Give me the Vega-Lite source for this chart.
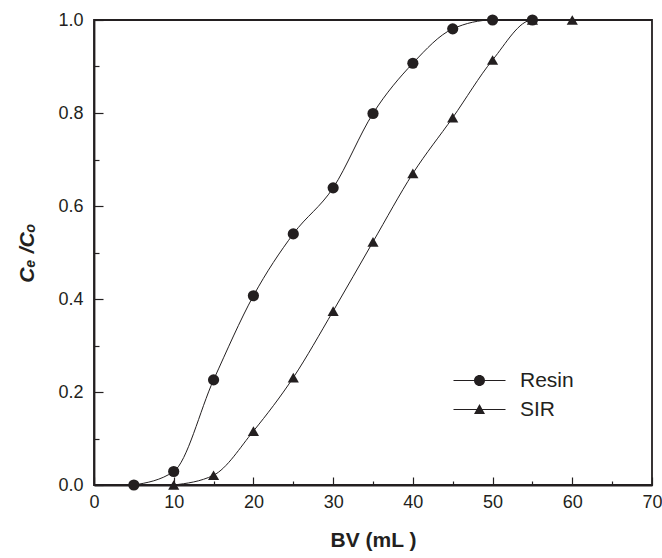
{
  "$schema": "https://vega.github.io/schema/vega-lite/v6.json",
  "autosize": "none",
  "width": 558,
  "height": 465,
  "padding": {"left": 94, "top": 20, "right": 10, "bottom": 73},
  "background": "white",
  "config": {
    "view": {"stroke": "#231f20", "strokeWidth": 1.8},
    "font": "Liberation Sans",
    "axis": {
      "grid": false,
      "domainColor": "#231f20",
      "domainWidth": 1.8,
      "tickColor": "#231f20",
      "tickWidth": 1.2,
      "labelColor": "#231f20",
      "labelFont": "Liberation Sans",
      "labelFontSize": 18,
      "titleColor": "#231f20",
      "titleFont": "Liberation Sans",
      "titleFontSize": 21,
      "titleFontWeight": "bold"
    }
  },
  "data": {
    "values": [
      {"series": "Resin", "bv": 5, "c": 0.0},
      {"series": "Resin", "bv": 10, "c": 0.029},
      {"series": "Resin", "bv": 15, "c": 0.226},
      {"series": "Resin", "bv": 20, "c": 0.407},
      {"series": "Resin", "bv": 25, "c": 0.54},
      {"series": "Resin", "bv": 30, "c": 0.639},
      {"series": "Resin", "bv": 35, "c": 0.799},
      {"series": "Resin", "bv": 40, "c": 0.907},
      {"series": "Resin", "bv": 45, "c": 0.981},
      {"series": "Resin", "bv": 50, "c": 1.0},
      {"series": "Resin", "bv": 55, "c": 1.0},
      {"series": "SIR", "bv": 10, "c": 0.0},
      {"series": "SIR", "bv": 15, "c": 0.021},
      {"series": "SIR", "bv": 20, "c": 0.116},
      {"series": "SIR", "bv": 25, "c": 0.231},
      {"series": "SIR", "bv": 30, "c": 0.374},
      {"series": "SIR", "bv": 35, "c": 0.523},
      {"series": "SIR", "bv": 40, "c": 0.67},
      {"series": "SIR", "bv": 45, "c": 0.79},
      {"series": "SIR", "bv": 50, "c": 0.914},
      {"series": "SIR", "bv": 55, "c": 1.0},
      {"series": "SIR", "bv": 60, "c": 1.0}
    ]
  },
  "encoding": {
    "x": {
      "field": "bv",
      "type": "quantitative",
      "scale": {"domain": [0, 70], "nice": false},
      "axis": {
        "title": "BV (mL )",
        "values": [0, 5, 10, 15, 20, 25, 30, 35, 40, 45, 50, 55, 60, 65, 70],
        "tickSize": {"condition": {"test": "datum.value % 10 === 0", "value": -8}, "value": -4},
        "labelExpr": "datum.value % 10 === 0 ? datum.label : ''",
        "labelPadding": 16,
        "labelFlush": false,
        "labelOverlap": false,
        "titlePadding": 14
      }
    },
    "y": {
      "field": "c",
      "type": "quantitative",
      "scale": {"domain": [0, 1], "nice": false},
      "axis": {
        "title": "Cₑ /Cₒ",
        "titleFontStyle": "italic",
        "values": [0, 0.1, 0.2, 0.3, 0.4, 0.5, 0.6, 0.7, 0.8, 0.9, 1.0],
        "format": ".1f",
        "tickSize": {"condition": {"test": "round(datum.value * 10) % 2 === 0", "value": -9}, "value": -5},
        "labelExpr": "round(datum.value * 10) % 2 === 0 ? datum.label : ''",
        "labelPadding": 20,
        "labelFlush": false,
        "labelOverlap": false,
        "titlePadding": 20
      }
    }
  },
  "layer": [
    {
      "mark": {"type": "line", "interpolate": "monotone", "color": "#231f20", "strokeWidth": 1},
      "encoding": {"detail": {"field": "series"}}
    },
    {
      "mark": {"type": "point", "filled": true, "opacity": 0, "color": "#231f20", "size": 100},
      "encoding": {
        "shape": {
          "field": "series",
          "type": "nominal",
          "scale": {
            "domain": ["Resin", "SIR"],
            "range": [
              "M-5.2,-0.1L5.2,-0.1L5.2,0.1L-5.2,0.1ZM1.1,0A1.1,1.1,0,1,1,-1.1,0A1.1,1.1,0,1,1,1.1,0Z",
              "M-5.2,-0.1L5.2,-0.1L5.2,0.1L-5.2,0.1ZM0,-1.1L1.1,0.9L-1.1,0.9Z"
            ]
          },
          "legend": {
            "title": null,
            "orient": "none",
            "legendX": 375,
            "legendY": 350,
            "padding": 0,
            "symbolSize": 100,
            "symbolOpacity": 1,
            "symbolFillColor": "#231f20",
            "symbolStrokeColor": "#231f20",
            "symbolStrokeWidth": 0,
            "labelFontSize": 21,
            "labelFont": "Liberation Sans",
            "labelColor": "#231f20",
            "labelOffset": 30,
            "rowPadding": 7,
            "encode": {
              "symbols": {
                "update": {
                  "fill": {"value": "#231f20"},
                  "opacity": {"value": 1}
                }
              }
            }
          }
        }
      }
    },
    {
      "mark": {"type": "point", "filled": true, "opacity": 1, "color": "#231f20", "size": 125},
      "encoding": {
        "shape": {
          "condition": {"test": "datum.series === 'Resin'", "value": "circle"},
          "value": "triangle-up"
        }
      }
    }
  ]
}
